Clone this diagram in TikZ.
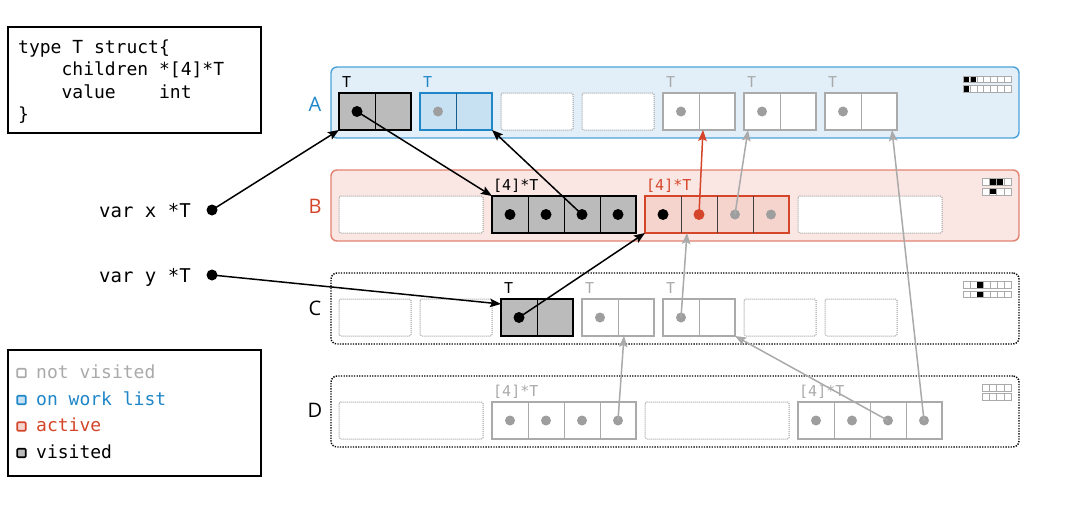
\documentclass[tikz,border=0pt]{standalone}
\usepackage{fontspec}
\setmonofont{DejaVu Sans Mono}
\setsansfont{Open Sans}
\usetikzlibrary{arrows.meta,calc}
\definecolor{cgray}{HTML}{AAAAAA}
\definecolor{cdot}{HTML}{9E9E9E}
\definecolor{cempty}{HTML}{9A9A9A}
\definecolor{cblue}{HTML}{1F86C8}
\definecolor{cbluefill}{HTML}{C7E1F2}
\definecolor{crowAfill}{HTML}{E2EFF9}
\definecolor{crowAdraw}{HTML}{4CA3DA}
\definecolor{cred}{HTML}{D5452A}
\definecolor{credfill}{HTML}{F5D4CD}
\definecolor{crowBfill}{HTML}{FAE7E3}
\definecolor{crowBdraw}{HTML}{E28271}
\definecolor{cvisit}{HTML}{BBBBBB}
\begin{document}
\begin{tikzpicture}[x=1pt,y=-1pt,
  rowbox/.style={rectangle, minimum width=688pt, minimum height=71pt, rounded corners=6pt, line width=1.4pt, inner sep=0pt},
  rowdotted/.style={rowbox, draw=black, dash pattern=on 1.3pt off 1.3pt, fill=white},
  obj/.style={draw, rectangle, minimum height=37pt, inner sep=0pt, outer sep=0pt, line width=1.8pt},
  obj2/.style={obj, minimum width=72pt},
  obj4/.style={obj, minimum width=144pt},
  visited/.style={fill=cvisit, draw=black, line width=2pt},
  worklist/.style={fill=cbluefill, draw=cblue},
  activeobj/.style={fill=credfill, draw=cred},
  unvis/.style={fill=white, draw=cgray},
  emptyslot/.style={fill=white, draw=cempty, line width=1pt, dash pattern=on 1pt off 1pt, rounded corners=1.5pt},
  divk/.style={draw=black, line width=0.9pt},
  divb/.style={draw=cblue!70!black, line width=0.9pt},
  divg/.style={draw=cgray, line width=0.9pt},
  divd/.style={draw=black!75, line width=0.9pt},
  dotk/.style={circle, fill=black, inner sep=0pt, minimum size=11pt},
  dotg/.style={circle, fill=cdot, inner sep=0pt, minimum size=10pt},
  dotr/.style={circle, fill=cred, inner sep=0pt, minimum size=11pt},
  tlabel/.style={font=\ttfamily\fontsize{15}{15}\selectfont, anchor=base west, inner sep=0pt},
  codetext/.style={font=\ttfamily\fontsize{18}{18}\selectfont, anchor=base west, inner sep=0pt},
  vartext/.style={font=\ttfamily\fontsize{19}{19}\selectfont, anchor=base west, inner sep=0pt},
  rowlabel/.style={font=\sffamily\fontsize{20}{20}\selectfont, inner sep=0pt},
  legsq/.style={rectangle, minimum size=8.5pt, inner sep=0pt, line width=1.7pt, rounded corners=1pt},
  arrk/.style={draw=black, line width=1.5pt, -{Stealth[length=11pt,width=8.5pt,inset=2pt]}},
  arrg/.style={draw=cgray, line width=1.5pt, -{Stealth[length=11pt,width=8.5pt,inset=2pt]}},
  arrr/.style={draw=cred, line width=1.5pt, -{Stealth[length=11pt,width=8.5pt,inset=2pt]}},
  iconsq/.style={draw=cgray, line width=0.6pt, fill=white},
  iconfill/.style={fill=black}
]
\useasboundingbox[fill=white] (0,0) rectangle (1080,506);

% code box
\node[draw, line width=2pt, minimum width=253pt, minimum height=106pt, inner sep=0pt] (code) at (134.5,80) {};
\node[codetext] (code1) at (18,53) {type T struct\{};
\node[codetext] (code2) at (61.4,75.5) {children\hphantom{x}*[4]*T};
\node[codetext] (code3) at (61.4,98) {value\hphantom{xxxx}int};
\node[codetext] (code4) at (18,120) {\}};

% legend
\node[draw, line width=2pt, minimum width=253pt, minimum height=126pt, inner sep=0pt] (legend) at (134.5,413) {};
\node[legsq, draw=cgray, fill=white] (lg1) at (21.5,373) {};
\node[codetext, text=cgray] (lt1) at (36,378) {not visited};
\node[legsq, draw=cblue, fill=cbluefill] (lg2) at (21.5,400) {};
\node[codetext, text=cblue] (lt2) at (36,405) {on work list};
\node[legsq, draw=cred, fill=credfill] (lg3) at (21.5,426.5) {};
\node[codetext, text=cred] (lt3) at (36,431.5) {active};
\node[legsq, draw=black, fill=cvisit] (lg4) at (21.5,453) {};
\node[codetext] (lt4) at (36,458) {visited};

% variables
\node[vartext] (varx) at (99,217) {var\hphantom{x}x\hphantom{x}*T};
\node[dotk] (xp) at (212,210) {};
\node[vartext] (vary) at (99,282) {var\hphantom{x}y\hphantom{x}*T};
\node[dotk] (yp) at (212,275) {};

% rows
\node[rowbox, fill=crowAfill, draw=crowAdraw] (rowA) at (675,102.5) {};
\node[rowbox, fill=crowBfill, draw=crowBdraw] (rowB) at (675,205.5) {};
\node[rowdotted] (rowC) at (675,308.5) {};
\node[rowdotted] (rowD) at (675,411.5) {};
\node[rowlabel, text=cblue] (labA) at (315,104) {A};
\node[rowlabel, text=cred] (labB) at (315,206) {B};
\node[rowlabel] (labC) at (315,308) {C};
\node[rowlabel] (labD) at (315,410) {D};

% icons
\foreach \i in {0,...,6} {
  \draw[iconsq] (963+\i*6.9,76) rectangle ++(6.9,6.6);
  \draw[iconsq] (963+\i*6.9,85.5) rectangle ++(6.9,6.6);
  \draw[iconsq] (963+\i*6.9,281.5) rectangle ++(6.9,6.6);
  \draw[iconsq] (963+\i*6.9,291) rectangle ++(6.9,6.6);
}
\foreach \i in {0,...,3} {
  \draw[iconsq] (982.4+\i*7.15,178.5) rectangle ++(7.15,7);
  \draw[iconsq] (982.4+\i*7.15,188) rectangle ++(7.15,7);
  \draw[iconsq] (982.4+\i*7.15,384.5) rectangle ++(7.15,7);
  \draw[iconsq] (982.4+\i*7.15,393.5) rectangle ++(7.15,7);
}
\fill[iconfill] (963.6,76.6) rectangle ++(5.7,5.4);
\fill[iconfill] (970.5,76.6) rectangle ++(5.7,5.4);
\fill[iconfill] (963.6,86.1) rectangle ++(5.7,5.4);
\fill[iconfill] (990.15,179.1) rectangle ++(5.95,5.8);
\fill[iconfill] (997.3,179.1) rectangle ++(5.95,5.8);
\fill[iconfill] (990.15,188.6) rectangle ++(5.95,5.8);
\fill[iconfill] (977.4,282.1) rectangle ++(5.7,5.4);
\fill[iconfill] (977.4,291.6) rectangle ++(5.7,5.4);

% row A objects
\node[obj2,visited] (A1) at (375,111.5) {};
\node[obj2,worklist] (A2) at (456,111.5) {};
\node[obj2,emptyslot] (A3) at (537,111.5) {};
\node[obj2,emptyslot] (A4) at (618,111.5) {};
\node[obj2,unvis] (A5) at (699,111.5) {};
\node[obj2,unvis] (A6) at (780,111.5) {};
\node[obj2,unvis] (A7) at (861,111.5) {};
\draw[divk] (A1.north) -- (A1.south);
\draw[divb] (A2.north) -- (A2.south);
\foreach \n in {A5,A6,A7} \draw[divg] (\n.north) -- (\n.south);
\node[dotk] (A1p) at ($(A1.west)!0.25!(A1.east)$) {};
\node[dotg] (A2p) at ($(A2.west)!0.25!(A2.east)$) {};
\node[dotg] (A5p) at ($(A5.west)!0.25!(A5.east)$) {};
\node[dotg] (A6p) at ($(A6.west)!0.25!(A6.east)$) {};
\node[dotg] (A7p) at ($(A7.west)!0.25!(A7.east)$) {};
\node[tlabel] (A1t) at ($(A1.north west)+(3,-6)$) {T};
\node[tlabel, text=cblue] (A2t) at ($(A2.north west)+(3,-6)$) {T};
\node[tlabel, text=cgray] (A5t) at ($(A5.north west)+(3,-6)$) {T};
\node[tlabel, text=cgray] (A6t) at ($(A6.north west)+(3,-6)$) {T};
\node[tlabel, text=cgray] (A7t) at ($(A7.north west)+(3,-6)$) {T};

% row B objects
\node[obj4,emptyslot] (B1) at (411,214.5) {};
\node[obj4,visited] (B2) at (564,214.5) {};
\node[obj4,activeobj] (B3) at (717,214.5) {};
\node[obj4,emptyslot] (B4) at (870,214.5) {};
\foreach \f in {0.25,0.5,0.75} {
  \draw[divk] ($(B2.north west)!\f!(B2.north east)$) -- ($(B2.south west)!\f!(B2.south east)$);
  \draw[divd] ($(B3.north west)!\f!(B3.north east)$) -- ($(B3.south west)!\f!(B3.south east)$);
}
\node[dotk] (B2p1) at ($(B2.west)!0.125!(B2.east)$) {};
\node[dotk] (B2p2) at ($(B2.west)!0.375!(B2.east)$) {};
\node[dotk] (B2p3) at ($(B2.west)!0.625!(B2.east)$) {};
\node[dotk] (B2p4) at ($(B2.west)!0.875!(B2.east)$) {};
\node[dotk] (B3p1) at ($(B3.west)!0.125!(B3.east)$) {};
\node[dotr] (B3p2) at ($(B3.west)!0.375!(B3.east)$) {};
\node[dotg] (B3p3) at ($(B3.west)!0.625!(B3.east)$) {};
\node[dotg] (B3p4) at ($(B3.west)!0.875!(B3.east)$) {};
\node[tlabel] (B2t) at ($(B2.north west)+(1,-6)$) {[4]*T};
\node[tlabel, text=cred] (B3t) at ($(B3.north west)+(1,-6)$) {[4]*T};

% row C objects
\node[obj2,emptyslot] (C1) at (375,317.5) {};
\node[obj2,emptyslot] (C2) at (456,317.5) {};
\node[obj2,visited] (C3) at (537,317.5) {};
\node[obj2,unvis] (C4) at (618,317.5) {};
\node[obj2,unvis] (C5) at (699,317.5) {};
\node[obj2,emptyslot] (C6) at (780,317.5) {};
\node[obj2,emptyslot] (C7) at (861,317.5) {};
\draw[divk] (C3.north) -- (C3.south);
\foreach \n in {C4,C5} \draw[divg] (\n.north) -- (\n.south);
\node[dotk] (C3p) at ($(C3.west)!0.25!(C3.east)$) {};
\node[dotg] (C4p) at ($(C4.west)!0.25!(C4.east)$) {};
\node[dotg] (C5p) at ($(C5.west)!0.25!(C5.east)$) {};
\node[tlabel] (C3t) at ($(C3.north west)+(3,-6)$) {T};
\node[tlabel, text=cgray] (C4t) at ($(C4.north west)+(3,-6)$) {T};
\node[tlabel, text=cgray] (C5t) at ($(C5.north west)+(3,-6)$) {T};

% row D objects
\node[obj4,emptyslot] (D1) at (411,420.5) {};
\node[obj4,unvis] (D2) at (564,420.5) {};
\node[obj4,emptyslot] (D3) at (717,420.5) {};
\node[obj4,unvis] (D4) at (870,420.5) {};
\foreach \f in {0.25,0.5,0.75} {
  \draw[divg] ($(D2.north west)!\f!(D2.north east)$) -- ($(D2.south west)!\f!(D2.south east)$);
  \draw[divg] ($(D4.north west)!\f!(D4.north east)$) -- ($(D4.south west)!\f!(D4.south east)$);
}
\node[dotg] (D2p1) at ($(D2.west)!0.125!(D2.east)$) {};
\node[dotg] (D2p2) at ($(D2.west)!0.375!(D2.east)$) {};
\node[dotg] (D2p3) at ($(D2.west)!0.625!(D2.east)$) {};
\node[dotg] (D2p4) at ($(D2.west)!0.875!(D2.east)$) {};
\node[dotg] (D4p1) at ($(D4.west)!0.125!(D4.east)$) {};
\node[dotg] (D4p2) at ($(D4.west)!0.375!(D4.east)$) {};
\node[dotg] (D4p3) at ($(D4.west)!0.625!(D4.east)$) {};
\node[dotg] (D4p4) at ($(D4.west)!0.875!(D4.east)$) {};
\node[tlabel, text=cgray] (D2t) at ($(D2.north west)+(1,-6)$) {[4]*T};
\node[tlabel, text=cgray] (D4t) at ($(D4.north west)+(1,-6)$) {[4]*T};

% connectors
\draw[arrk] (xp.center) -- (A1.south west);
\draw[arrk] (A1p.center) -- (B2.north west);
\draw[arrk] (B2p3.center) -- (A2.south east);
\draw[arrk] (yp.center) -- ($(C3.north west)+(0,5)$);
\draw[arrk] (C3p.center) -- (B3.south west);
\draw[arrr] (B3p2.center) -- ($(A5.south)+(4,0)$);
\draw[arrg] (B3p3.center) -- ($(A6.south west)+(4,0)$);
\draw[arrg] (D4p4.center) -- ($(A7.south east)+(-5,0)$);
\draw[arrg] (D2p4.center) -- ($(C4.south)+(6,0)$);
\draw[arrg] (C5p.center) -- ($(B3.south west)+(42,0)$);
\draw[arrg] (D4p3.center) -- (C5.south east);
\end{tikzpicture}
\end{document}
